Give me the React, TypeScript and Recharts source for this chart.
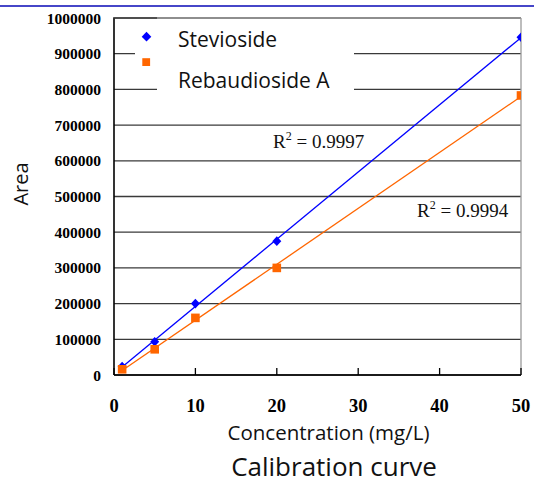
import React from 'react';
import { ScatterChart, Scatter, XAxis, YAxis, CartesianGrid, ReferenceLine } from 'recharts';

const concentrations = [1, 5, 10, 20, 50];
const steviosideArea = [24000, 93000, 200000, 375000, 946000];
const rebaudiosideArea = [16000, 72000, 160000, 300000, 783000];
const xTicks = [0, 10, 20, 30, 40, 50];
const yTicks = [0, 100000, 200000, 300000, 400000, 500000, 600000, 700000, 800000, 900000, 1000000];
const seriesNames = ['Stevioside', 'Rebaudioside A'];
const r2Values = ['0.9997', '0.9994'];
const xLabel = 'Concentration (mg/L)';
const yLabel = 'Area';
const title = 'Calibration curve';

const steviosideData = concentrations.map((x, i) => ({ x, y: steviosideArea[i] }));
const rebaudiosideData = concentrations.map((x, i) => ({ x, y: rebaudiosideArea[i] }));

const BLUE = '#0000ff';
const ORANGE = '#ff6600';
const SANS = '"Open Sans", "Noto Sans", sans-serif';
const SERIF = '"Liberation Serif", "Times New Roman", serif';

const Diamond = (p: any) => {
  const { cx, cy } = p;
  if (cx == null || cy == null) return null;
  return (
    <polygon
      points={`${cx},${cy - 4.8} ${cx + 4.5},${cy} ${cx},${cy + 4.8} ${cx - 4.5},${cy}`}
      fill={BLUE}
    />
  );
};

const Square = (p: any) => {
  const { cx, cy } = p;
  if (cx == null || cy == null) return null;
  return <rect x={cx - 4.3} y={cy - 4.3} width={8.6} height={8.6} fill={ORANGE} />;
};

const YTick = (p: any) => (
  <text x={p.x} y={p.y} dy="0.36em" textAnchor="end" fontFamily={SERIF} fontWeight="bold" fontSize={15.5} fill="#000">
    {p.payload.value}
  </text>
);

const XTick = (p: any) => (
  <text x={p.x} y={p.y} dy={44} textAnchor="middle" fontFamily={SERIF} fontWeight="bold" fontSize={18.5} fill="#000">
    {p.payload.value}
  </text>
);

export default function App() {
  return (
    <div style={{ position: 'absolute', left: 0, top: 0, width: 534, height: 483, background: '#fff' }}>
      <ScatterChart width={534} height={483} margin={{ top: 18, right: 13, bottom: 78, left: 8 }}>
        <CartesianGrid vertical={false} stroke="#3a3a3a" strokeWidth={1.3} />
        <XAxis
          type="number"
          dataKey="x"
          domain={[0, 50]}
          ticks={xTicks}
          height={30}
          tickSize={-7}
          tickMargin={0}
          tickLine={{ stroke: '#000', strokeWidth: 1.3 }}
          axisLine={{ stroke: '#000', strokeWidth: 1.6 }}
          tick={<XTick />}
          allowDataOverflow
        />
        <YAxis
          type="number"
          dataKey="y"
          domain={[0, 1000000]}
          ticks={yTicks}
          width={106}
          tickSize={0}
          tickMargin={13}
          tickLine={false}
          axisLine={{ stroke: '#000', strokeWidth: 1.6 }}
          tick={<YTick />}
          allowDataOverflow
        />
        <ReferenceLine y={1000000} stroke="#9a9a9a" strokeWidth={1.3} />
        <ReferenceLine x={50} stroke="#9a9a9a" strokeWidth={1.3} />
        <Scatter
          name={seriesNames[0]}
          data={steviosideData}
          line={{ stroke: BLUE, strokeWidth: 1.3 }}
          lineType="fitting"
          shape={<Diamond />}
          isAnimationActive={false}
        />
        <Scatter
          name={seriesNames[1]}
          data={rebaudiosideData}
          line={{ stroke: ORANGE, strokeWidth: 1.3 }}
          lineType="fitting"
          shape={<Square />}
          isAnimationActive={false}
        />
      </ScatterChart>
      <svg
        width={534}
        height={483}
        style={{ position: 'absolute', left: 0, top: 0, pointerEvents: 'none' }}
      >
        <line x1={0} x2={534} y1={6} y2={6} stroke="#4646c8" strokeWidth={2} />
        <line x1={113} x2={157} y1={18} y2={18} stroke="#3a3a3a" strokeWidth={1.3} />
        <rect x={157} y={19} width={197} height={76} fill="#fff" />
        <rect x={135} y={19} width={23} height={55} fill="#fff" />
        <polygon points="146.5,31.8 151.3,36.7 146.5,41.6 141.7,36.7" fill={BLUE} />
        <rect x={142.3} y={58.2} width={7.8} height={7.8} fill={ORANGE} />
        <text x={178} y={47} fontFamily={SANS} fontSize={21} fill="#111">{seriesNames[0]}</text>
        <text x={178} y={87.5} fontFamily={SANS} fontSize={21} fill="#111">{seriesNames[1]}</text>
        <text x={273} y={148} fontFamily={SERIF} fontSize={19} fill="#111">
          R<tspan dy={-8} fontSize={12}>2</tspan><tspan dy={8}>{` = ${r2Values[0]}`}</tspan>
        </text>
        <text x={417} y={217} fontFamily={SERIF} fontSize={19} fill="#111">
          R<tspan dy={-8} fontSize={12}>2</tspan><tspan dy={8}>{` = ${r2Values[1]}`}</tspan>
        </text>
        <text x={28} y={184} transform="rotate(-90, 28, 184)" textAnchor="middle" fontFamily={SANS} fontSize={20} fill="#111">
          {yLabel}
        </text>
        <text x={328.5} y={440} textAnchor="middle" fontFamily={SANS} fontSize={20.5} fill="#111">{xLabel}</text>
        <text x={334} y={475.5} textAnchor="middle" fontFamily={SANS} fontSize={26} fill="#111">{title}</text>
      </svg>
    </div>
  );
}
